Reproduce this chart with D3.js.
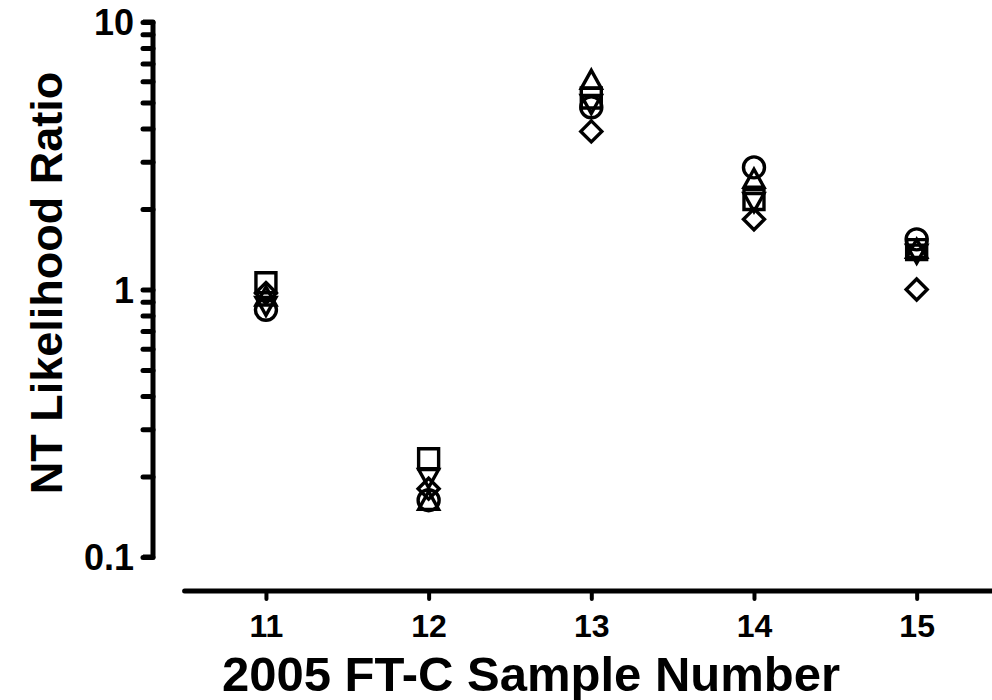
<!DOCTYPE html>
<html>
<head>
<meta charset="utf-8">
<script src="https://cdn.jsdelivr.net/npm/d3@7"></script>
<style>
  body { margin: 0; background: #fff; }
  text { font-family: Arial, "Liberation Sans", sans-serif; font-weight: bold; fill: #000; }
</style>
</head>
<body>
<div id="chart"></div>
<script>

// sample numbers on the x axis
var samples = [11, 12, 13, 14, 15];

// NT likelihood ratio for each replicate, one array per marker
var squareVals   = [1.06, 0.233, 5.2, 2.17, 1.41];
var triUpVals    = [0.93, 0.160, 6.0, 2.56, 1.40];
var triDownVals  = [0.88, 0.200, 5.0, 2.15, 1.38];
var diamondVals  = [0.97, 0.180, 3.9, 1.83, 1.00];
var circleVals   = [0.84, 0.163, 4.8, 2.86, 1.54];

var yTickLabels = [0.1, 1, 10];

var width = 992, height = 700;

var svg = d3.select('#chart')
  .append('svg')
    .attr('width', width)
    .attr('height', height);

var x = d3.scaleLinear()
  .domain([10.5, 15.5])
  .range([184.6, 998]);

var y = d3.scaleLog()
  .domain([0.1, 10])
  .range([557, 22]);

// marker shapes
function square(s) { return 'M' + (-s) + ',' + (-s) + 'H' + s + 'V' + s + 'H' + (-s) + 'Z'; }
function triUp(s) { return 'M0,' + (-s * 1.1) + 'L' + s + ',' + (s * 0.7) + 'H' + (-s) + 'Z'; }
function triDown(s) { return 'M0,' + (s * 1.1) + 'L' + s + ',' + (-s * 0.7) + 'H' + (-s) + 'Z'; }
function diamond(s) { return 'M0,' + (-s) + 'L' + s + ',0L0,' + s + 'L' + (-s) + ',0Z'; }
function circle(s) { return 'M' + s + ',0A' + s + ',' + s + ' 0 1,1 ' + (-s) + ',0A' + s + ',' + s + ' 0 1,1 ' + s + ',0Z'; }

var series = [
  {vals: diamondVals, shape: diamond, size: 10.5},
  {vals: circleVals, shape: circle, size: 10.5},
  {vals: triDownVals, shape: triDown, size: 10},
  {vals: triUpVals, shape: triUp, size: 10},
  {vals: squareVals, shape: square, size: 10}
];

// y axis
var yAxis = d3.axisLeft(y)
  .tickValues(d3.range(1, 11).map(function(d) { return d / 10; })
    .concat(d3.range(2, 11)))
  .tickSize(10)
  .tickPadding(9)
  .tickFormat(function(d) { return yTickLabels.indexOf(d) >= 0 ? String(d) : ''; });

var gy = svg.append('g')
  .attr('transform', 'translate(153,0)')
  .call(yAxis);
gy.select('.domain')
  .attr('d', 'M-10,' + y(10) + 'H0V' + y(0.1) + 'H-10')
  .attr('stroke', '#000')
  .attr('stroke-width', 5)
  .attr('fill', 'none')
  .attr('stroke-linejoin', 'round');
gy.selectAll('.tick line')
  .attr('stroke', '#000')
  .attr('stroke-width', 5)
  .attr('stroke-linecap', 'round');
gy.selectAll('.tick text')
  .style('font-size', '36px')
  .attr('dy', '0.36em');

// x axis
var xAxis = d3.axisBottom(x)
  .tickValues(samples)
  .tickSize(8)
  .tickPadding(15)
  .tickFormat(d3.format('d'));

var gx = svg.append('g')
  .attr('transform', 'translate(0,591)')
  .call(xAxis);
gx.select('.domain')
  .attr('d', 'M' + x(10.5) + ',0H' + x(15.5))
  .attr('stroke', '#000')
  .attr('stroke-width', 5)
  .attr('stroke-linecap', 'round');
gx.selectAll('.tick line')
  .attr('stroke', '#000')
  .attr('stroke-width', 4)
  .attr('stroke-linecap', 'round');
gx.selectAll('.tick text')
  .style('font-size', '32px');

// points
series.forEach(function(s) {
  svg.append('g').selectAll('path')
    .data(samples.map(function(d, i) { return {x: d, y: s.vals[i]}; }))
    .enter().append('path')
      .attr('transform', function(d) { return 'translate(' + x(d.x) + ',' + y(d.y) + ')'; })
      .attr('d', s.shape(s.size))
      .attr('fill', 'none')
      .attr('stroke', '#000')
      .attr('stroke-width', 3.4);
});

// axis titles
svg.append('text')
  .attr('x', 531)
  .attr('y', 691)
  .style('text-anchor', 'middle')
  .style('font-size', '49px')
  .text('2005 FT-C Sample Number');

svg.append('text')
  .attr('transform', 'translate(62,283)rotate(-90)')
  .style('text-anchor', 'middle')
  .style('font-size', '45px')
  .text('NT Likelihood Ratio');
</script>
</body>
</html>
